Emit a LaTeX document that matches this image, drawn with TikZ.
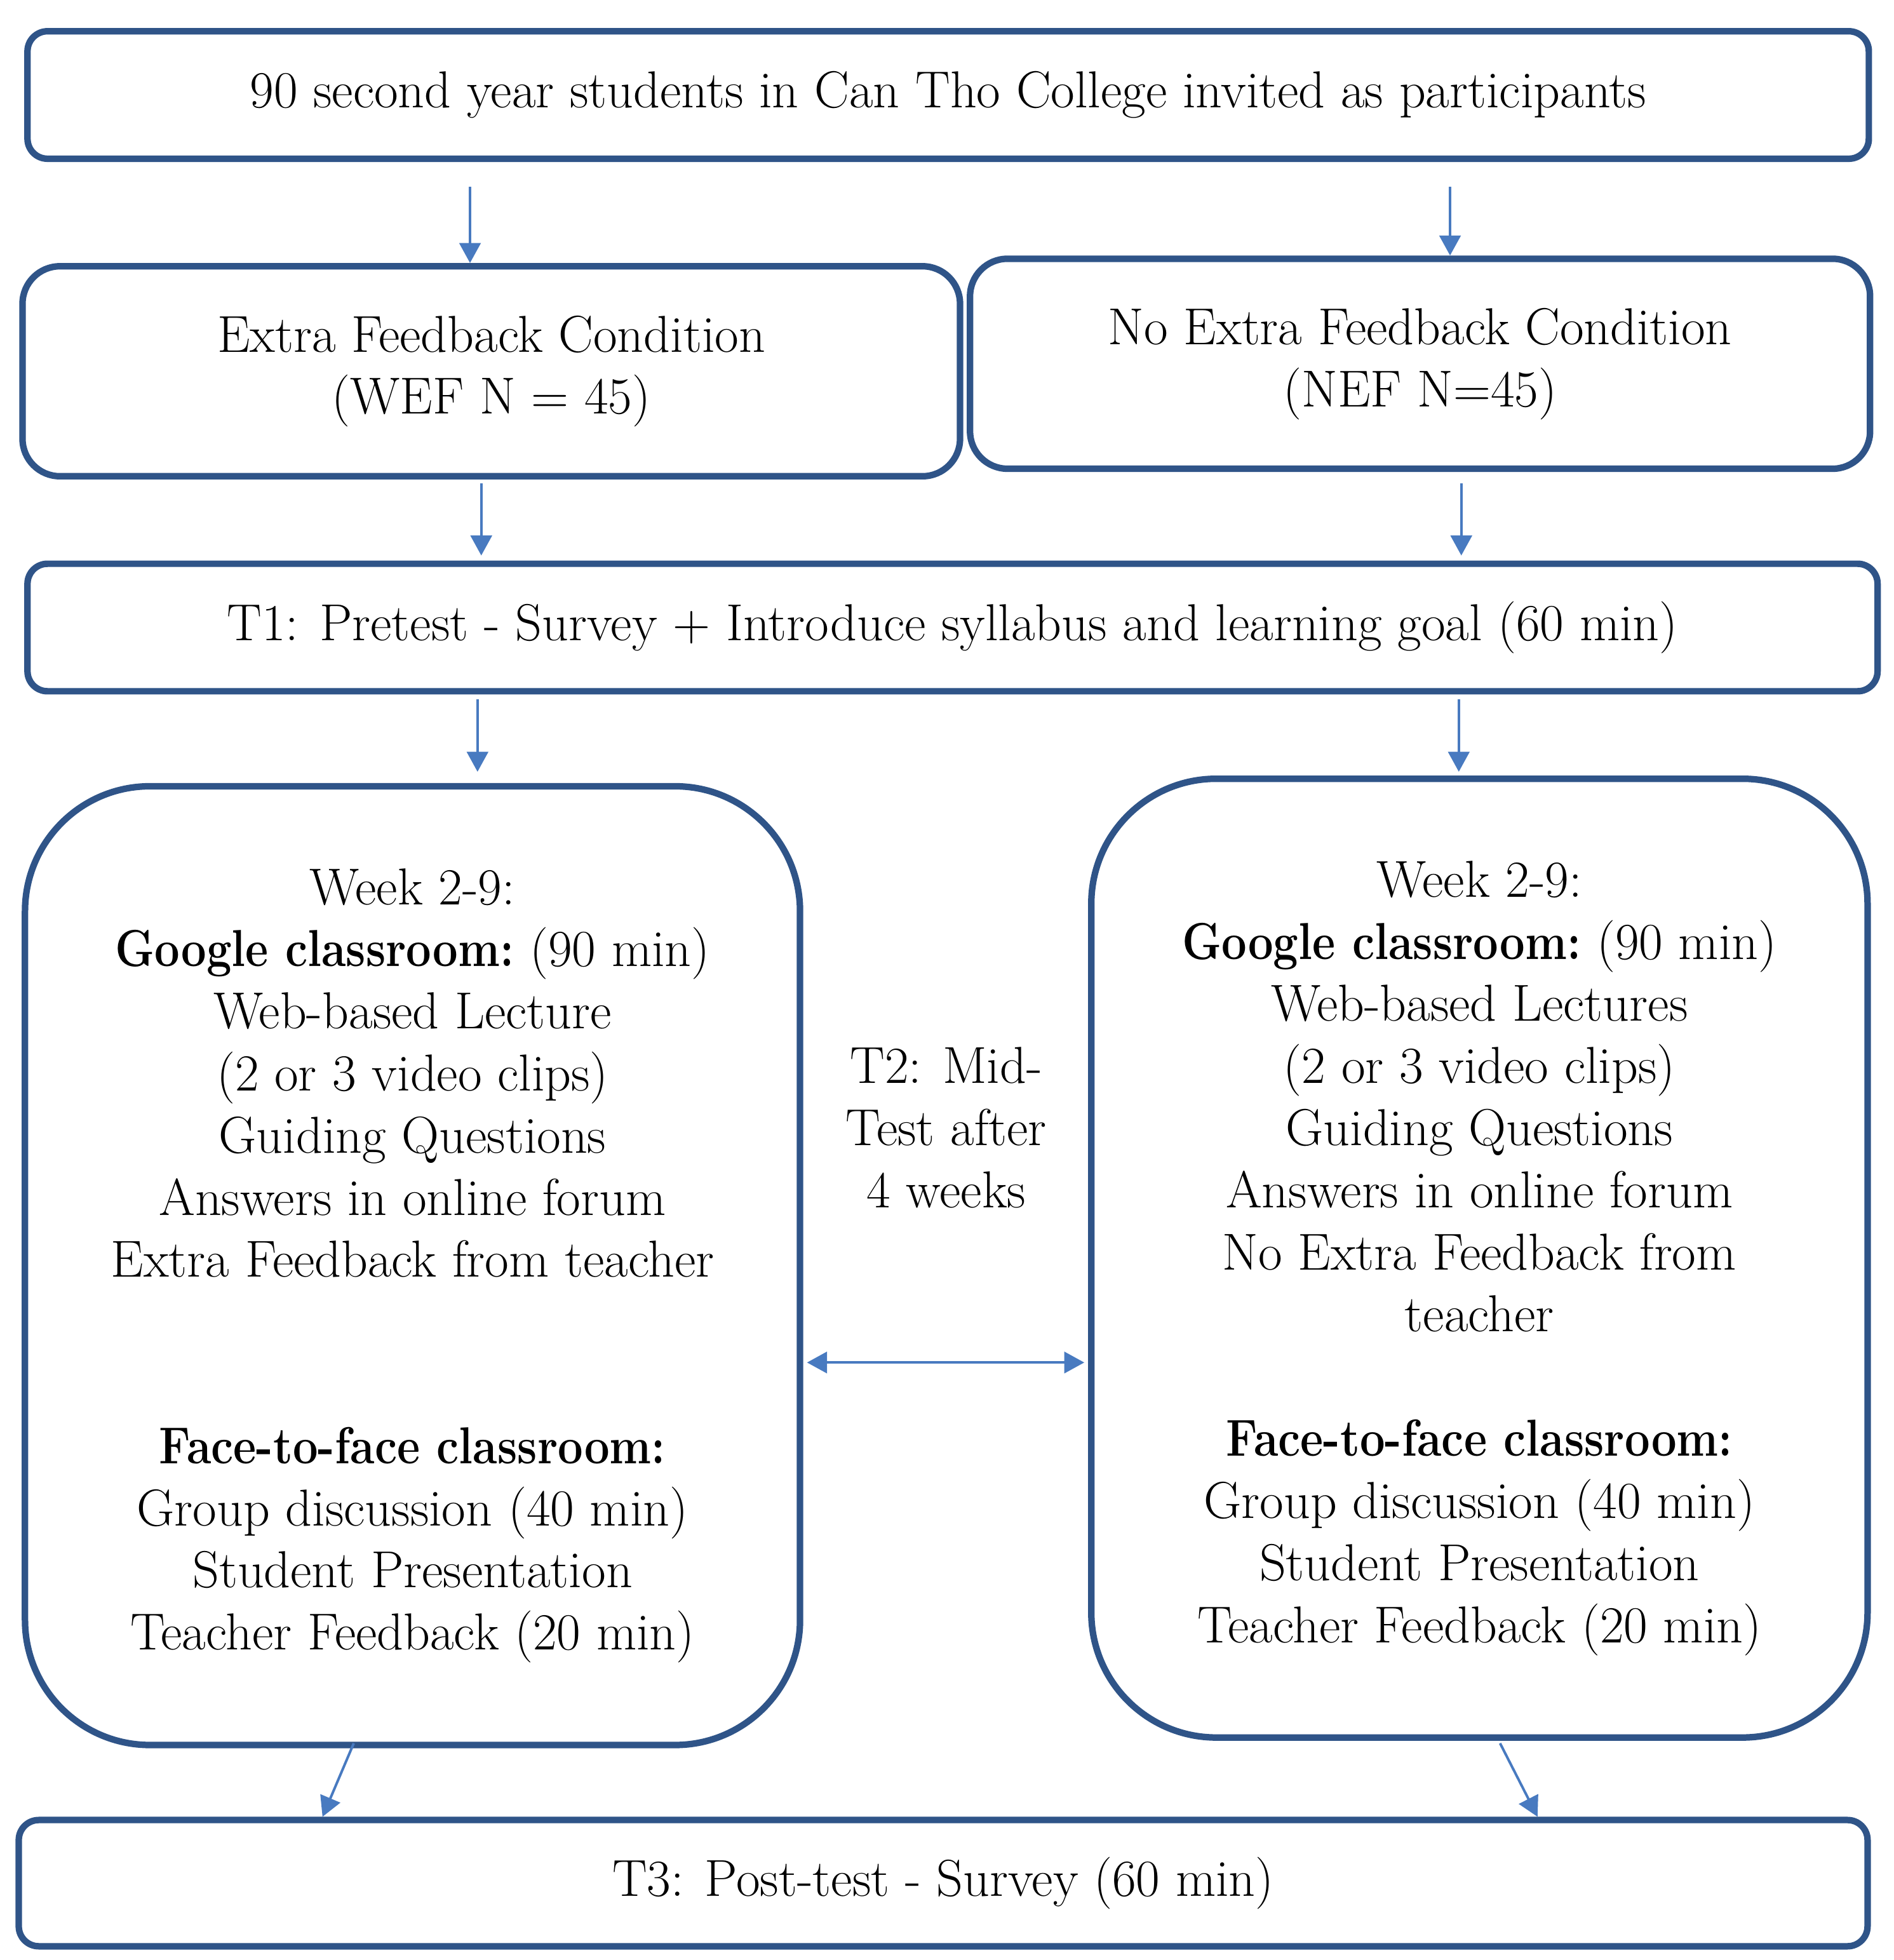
\documentclass[tikz,border=0pt]{standalone}
\usetikzlibrary{arrows.meta}
\definecolor{boxblue}{RGB}{47,84,136}
\definecolor{arrblue}{RGB}{72,122,192}
\newcommand\mainfs{\fontsize{20.8}{24.85}\selectfont}
\newcommand\bd[1]{\scalebox{0.86}[1]{\textbf{#1}}}
\begin{document}
\begin{tikzpicture}[x=0.5pt,y=-0.5pt,
  box/.style={draw=boxblue, line width=2.6pt, rounded corners=8pt, inner sep=0pt, align=center, font=\mainfs, fill=white},
  arr/.style={draw=arrblue, line width=1pt, -{Triangle[width=8.5pt,length=8pt]}},
  darr/.style={draw=arrblue, line width=1pt, {Triangle[width=8.5pt,length=8pt]}-{Triangle[width=8.5pt,length=8pt]}}]
\useasboundingbox (0,0) rectangle (1515,1568);
\fill[white] (0,0) rectangle (1515,1568);

\node[box, minimum width=736.5pt, minimum height=51pt] (A) at (758.5,76)
  {90 second year students in Can Tho College invited as participants};
\node[box, rounded corners=15pt, minimum width=375pt, minimum height=84pt] (B) at (393,297)
  {Extra Feedback Condition\\(WEF N = 45)};
\node[box, rounded corners=15pt, minimum width=360pt, minimum height=84pt] (C) at (1136,291)
  {No Extra Feedback Condition\\(NEF N=45)};
\node[box, minimum width=740pt, minimum height=51pt] (D) at (762,502)
  {T1: Pretest - Survey + Introduce syllabus and learning goal (60 min)};
\node[box, rounded corners=50pt, minimum width=310pt, minimum height=383.5pt] (E) at (330,1012.5)
  {Week 2-9:\\\bd{Google classroom:} (90 min)\\Web-based Lecture\\(2 or 3 video clips)\\Guiding Questions\\Answers in online forum\\Extra Feedback from teacher\\[49.7pt]\bd{Face-to-face classroom:}\\Group discussion (40 min)\\Student Presentation\\Teacher Feedback (20 min)};
\node[box, rounded corners=50pt, minimum width=310.5pt, minimum height=383.5pt] (F) at (1183.5,1006.5)
  {Week 2-9:\\\bd{Google classroom:} (90 min)\\Web-based Lectures\\(2 or 3 video clips)\\Guiding Questions\\Answers in online forum\\No Extra Feedback from\\teacher\\[24.85pt]\bd{Face-to-face classroom:}\\Group discussion (40 min)\\Student Presentation\\Teacher Feedback (20 min)};
\node[align=center, font=\mainfs, inner sep=0pt] (T2) at (757,902) {T2: Mid-\\Test after\\4 weeks};
\node[box, minimum width=739.5pt, minimum height=50.5pt] (G) at (754.5,1506.5)
  {T3: Post-test - Survey (60 min)};

\coordinate (x1) at (376,0);
\coordinate (x2) at (1160,0);
\coordinate (x3) at (385,0);
\coordinate (x4) at (1169,0);
\coordinate (x5) at (382,0);
\coordinate (x6) at (1167,0);
\coordinate (x7) at (283,0);
\coordinate (x8) at (258,0);
\coordinate (x9) at (1200,0);
\coordinate (x10) at (1230,0);
\coordinate (ymid) at (0,1090);

\draw[arr, shorten <=10pt] (A.south -| x1) -- (B.north -| x1);
\draw[arr, shorten <=10pt] (A.south -| x2) -- (C.north -| x2);
\draw[arr, shorten <=1.5pt, shorten >=2pt] (B.south -| x3) -- (D.north -| x3);
\draw[arr, shorten <=4.5pt, shorten >=2pt] (C.south -| x4) -- (D.north -| x4);
\draw[arr, shorten <=2pt, shorten >=4.5pt] (D.south -| x5) -- (E.north -| x5);
\draw[arr, shorten <=2pt, shorten >=1.5pt] (D.south -| x6) -- (F.north -| x6);
\draw[arr] ([yshift=2pt]E.south -| x7) -- (G.north -| x8);
\draw[arr] ([yshift=-1pt]F.south -| x9) -- (G.north -| x10);
\draw[darr, shorten <=1.5pt, shorten >=1.5pt] (E.east |- ymid) -- (F.west |- ymid);
\end{tikzpicture}
\end{document}
